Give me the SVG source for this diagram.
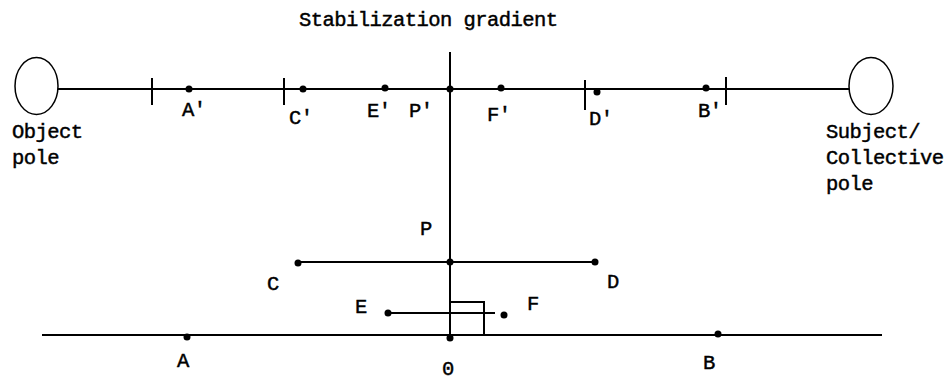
<svg xmlns="http://www.w3.org/2000/svg" width="950" height="380" viewBox="0 0 950 380">
<style>
.t{font-family:"Liberation Mono","Courier New",monospace;font-size:20.5px;letter-spacing:-0.55px;fill:#000;stroke:#000;stroke-width:0.45}
.l{stroke:#000;stroke-width:2;fill:none}
.tk{stroke:#000;stroke-width:2}
.d{fill:#000}
.pole{fill:none;stroke:#000;stroke-width:1.5}
</style>
<rect width="950" height="380" fill="#fff"/>
<g id="connectors">
<line class="l" x1="58" y1="89" x2="849" y2="89"/>
<line class="l" x1="450" y1="52" x2="450" y2="338"/>
<line class="l" x1="298" y1="262" x2="595" y2="262"/>
<line class="l" x1="388" y1="313" x2="495" y2="313"/>
<polyline class="l" points="450,302 484,302 484,335"/>
<line class="l" x1="42" y1="335" x2="882" y2="335"/>
<line class="tk" x1="152" y1="78" x2="152" y2="105"/>
<line class="tk" x1="284" y1="78" x2="284" y2="105"/>
<line class="tk" x1="585" y1="80" x2="585" y2="110"/>
<line class="tk" x1="726" y1="77" x2="726" y2="105"/>
</g>
<g id="title"><text class="t" x="299" y="26">Stabilization gradient</text></g>
<g id="object-pole">
<ellipse class="pole" cx="36.5" cy="86" rx="21.5" ry="28.5"/>
<text class="t" x="12" y="138">Object</text>
<text class="t" x="12" y="164">pole</text>
</g>
<g id="subject-pole">
<ellipse class="pole" cx="871" cy="86" rx="22" ry="28.5"/>
<text class="t" x="826" y="138">Subject/</text>
<text class="t" x="826" y="164">Collective</text>
<text class="t" x="826" y="190">pole</text>
</g>
<g id="A-prime"><circle class="d" cx="189" cy="89" r="3.5"/><text class="t" x="182" y="116">A'</text></g>
<g id="C-prime"><circle class="d" cx="303" cy="89" r="3.5"/><text class="t" x="289" y="124">C'</text></g>
<g id="E-prime"><circle class="d" cx="385" cy="88" r="3.5"/><text class="t" x="367" y="117">E'</text></g>
<g id="P-prime"><circle class="d" cx="450" cy="89" r="3.5"/><text class="t" x="409" y="117">P'</text></g>
<g id="F-prime"><circle class="d" cx="501" cy="88" r="3.5"/><text class="t" x="487" y="121">F'</text></g>
<g id="D-prime"><circle class="d" cx="597" cy="92" r="3.5"/><text class="t" x="589" y="125">D'</text></g>
<g id="B-prime"><circle class="d" cx="706" cy="88" r="3.5"/><text class="t" x="698" y="117">B'</text></g>
<g id="P"><circle class="d" cx="450" cy="262" r="3.5"/><text class="t" x="420" y="235">P</text></g>
<g id="C"><circle class="d" cx="298" cy="263" r="3.5"/><text class="t" x="267" y="290">C</text></g>
<g id="D"><circle class="d" cx="595" cy="262" r="3.5"/><text class="t" x="607" y="288">D</text></g>
<g id="E"><circle class="d" cx="388" cy="313" r="3.5"/><text class="t" x="355" y="313">E</text></g>
<g id="F"><circle class="d" cx="504" cy="315" r="3.5"/><text class="t" x="527" y="310">F</text></g>
<g id="O"><circle class="d" cx="450" cy="338" r="3.5"/><text class="t" x="442" y="375">0</text></g>
<g id="A"><circle class="d" cx="187" cy="337" r="3.5"/><text class="t" x="177" y="367">A</text></g>
<g id="B"><circle class="d" cx="718" cy="334" r="3.5"/><text class="t" x="703" y="369">B</text></g>
</svg>
